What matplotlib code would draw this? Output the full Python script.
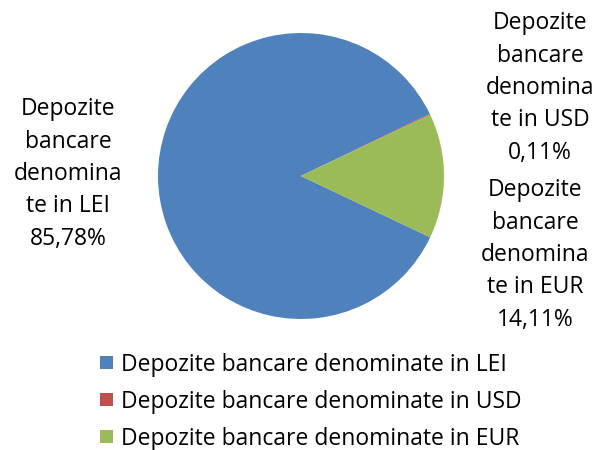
import matplotlib
matplotlib.use("Agg")
import matplotlib.pyplot as plt
from matplotlib.patches import Rectangle

categories = ["Depozite bancare denominate in LEI",
              "Depozite bancare denominate in USD",
              "Depozite bancare denominate in EUR"]
values = [85.78, 0.11, 14.11]
value_labels = ["85,78%", "0,11%", "14,11%"]
colors = ["#4F81BD", "#C0504D", "#9BBB59"]

W, H = 595, 450
fig = plt.figure(figsize=(W / 100, H / 100), dpi=100)
plt.rcParams['font.family'] = ['Open Sans', 'DejaVu Sans']

cx, cy, r = 301, 176, 143
ax = fig.add_axes([(cx - r) / W, (H - cy - r) / H, 2 * r / W, 2 * r / H])
ax.pie(values, colors=colors, startangle=334.6, counterclock=False,
       radius=1, wedgeprops=dict(linewidth=0))
ax.set_xlim(-1, 1)
ax.set_ylim(-1, 1)
ax.set_aspect('equal')
ax.axis('off')

fs = 16.5
def lab(x, y, name, val):
    words = name.split(" ")
    txt = "Depozite\nbancare\ndenomina\nte in " + words[-1] + "\n" + val
    fig.text(x / W, 1 - y / H, txt, ha='center', va='center', fontsize=fs,
             linespacing=1.47, color='black')

lab(68, 174, categories[0], value_labels[0])
lab(540, 88, categories[1], value_labels[1])
lab(535, 255, categories[2], value_labels[2])

row_y = [362, 399, 436]
sq = 13
for name, c, y in zip(categories, colors, row_y):
    fig.patches.append(Rectangle((100 / W, 1 - (y + sq / 2) / H), sq / W, sq / H,
                                 transform=fig.transFigure, facecolor=c,
                                 edgecolor='none', figure=fig))
    fig.text(121 / W, 1 - y / H, name, ha='left', va='center_baseline',
             fontsize=fs, color='black')

fig.savefig("out.png", dpi=100)
